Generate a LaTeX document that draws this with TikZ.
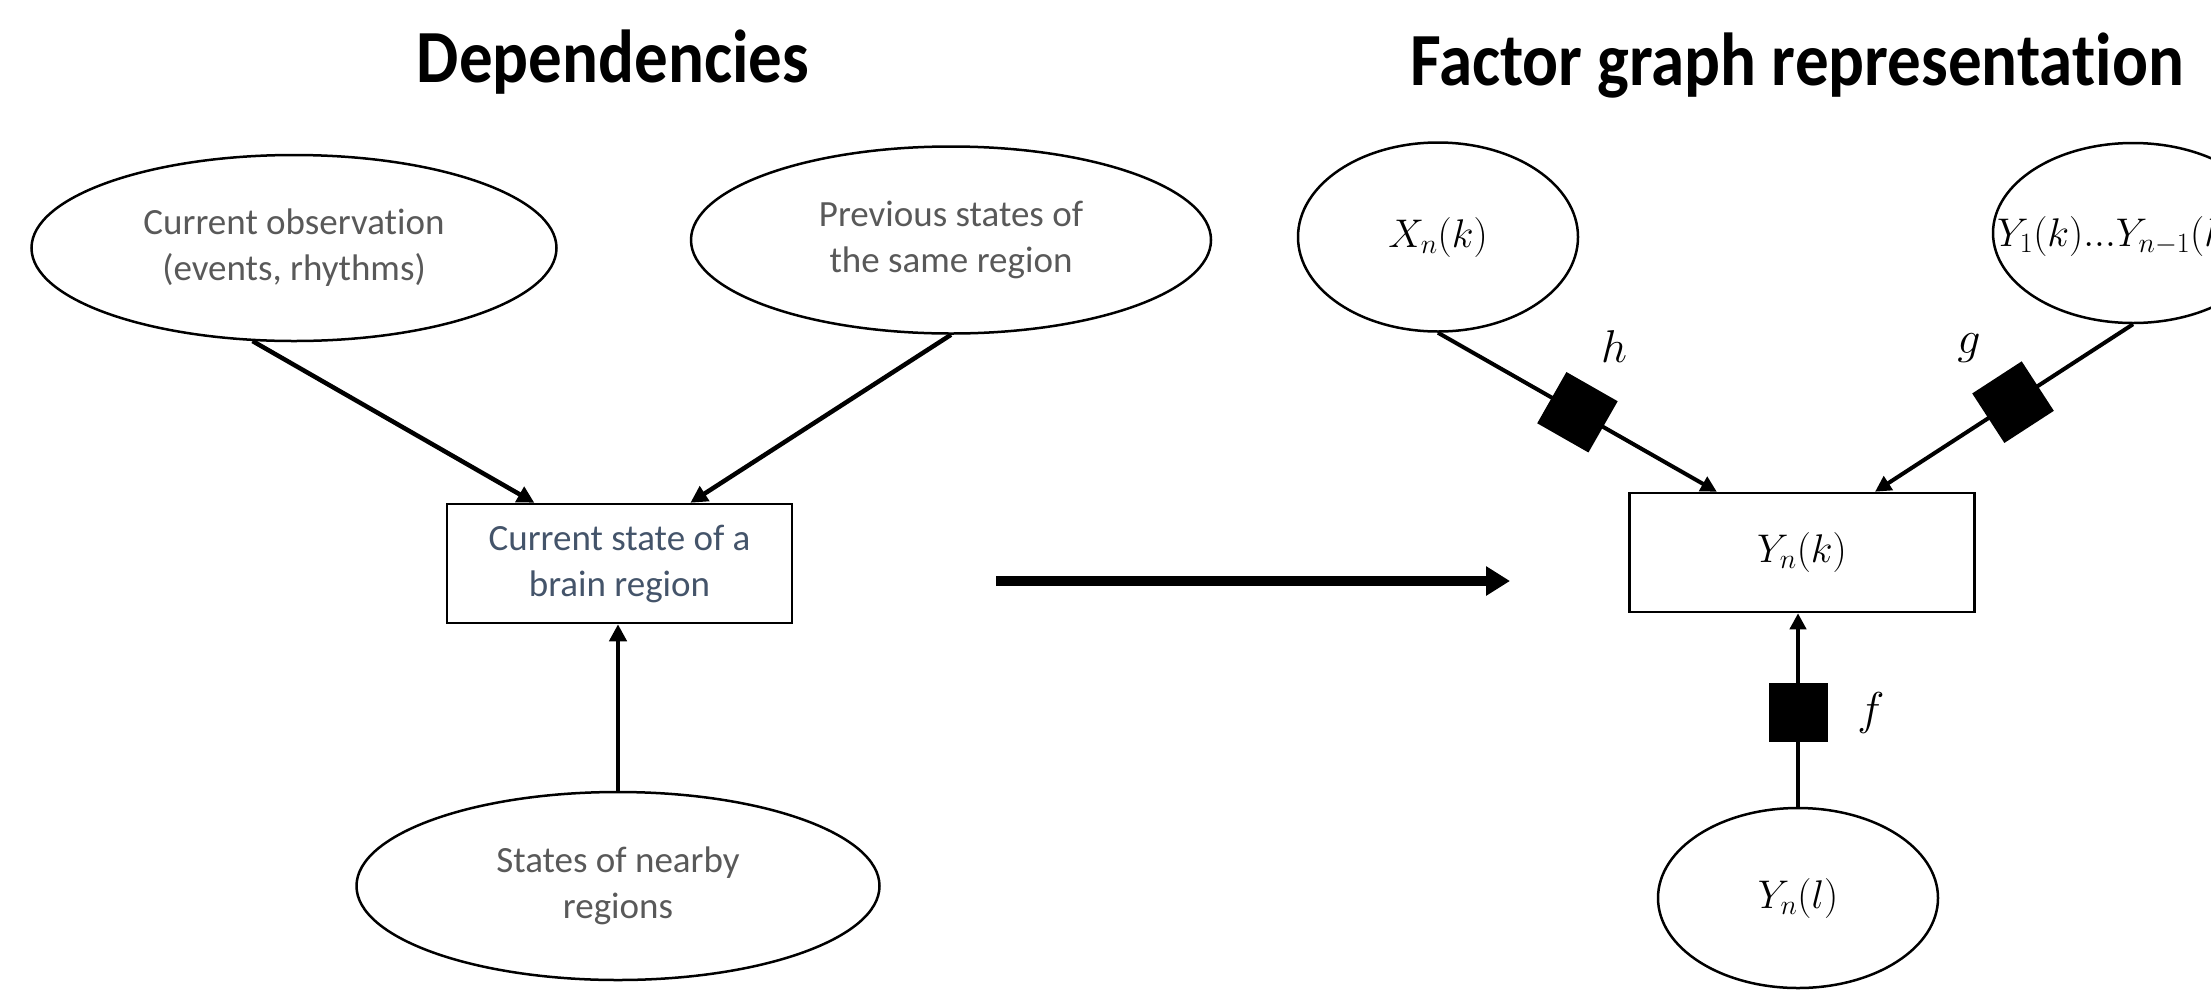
\RequirePackage{fix-cm}
\documentclass[tikz,border=0pt]{standalone}
\usepackage[no-math]{fontspec}
\setmainfont{Carlito}[Ligatures=NoCommon]
\usepackage{graphicx}
\usetikzlibrary{shapes.geometric,arrows.meta,calc}
\definecolor{txtgray}{HTML}{595959}
\definecolor{txtblue}{HTML}{44546A}
\begin{document}
\begin{tikzpicture}[x=1pt,y=-1pt,
  ell/.style={draw, ellipse, line width=2.5pt, inner sep=0pt, text=txtgray, align=center,
    font=\fontsize{37}{46}\selectfont},
  bx/.style={draw, rectangle, line width=2.5pt, minimum width=345pt, minimum height=119pt,
    inner sep=0pt, align=center, font=\fontsize{37}{46}\selectfont},
  mth/.style={text=black, font=\fontsize{40}{44}\selectfont},
  lbl/.style={inner sep=0pt, font=\fontsize{46}{50}\selectfont},
  ttl/.style={inner sep=0pt, anchor=base, font=\fontsize{67}{80}\selectfont\bfseries},
  arr/.style={line width=4.5pt, -{Triangle[length=17pt,width=17pt]}},
  arrR/.style={line width=4pt, -{Triangle[length=16pt,width=16pt]}},
  bigarr/.style={line width=9.5pt, -{Triangle[length=24pt,width=28pt]}},
  fac/.style={fill=black, rectangle, minimum size=59pt, inner sep=0pt, sloped}
]
\useasboundingbox (0,0) rectangle (2211,991);
\clip (0,0) rectangle (2211,991);

% titles
\node[ttl] (t1) at (613,82) {\scalebox{1}[1.12]{Dependencies}};
\node[ttl] (t2) at (1797,85) {\scalebox{1}[1.12]{Factor graph representation}};

% left: dependencies
\node[ell, minimum width=525pt, minimum height=186pt] (obs) at (294,248) {Current observation\\(events, rhythms)};
\node[ell, minimum width=520pt, minimum height=187pt] (prev) at (951,240) {Previous states of\\the same region};
\node[bx, text=txtblue] (cur) at (619.5,563.5) {Current state of a\\brain region};
\node[ell, minimum width=523pt, minimum height=188pt] (near) at (618,886) {States of nearby\\regions};

\draw[arr] (obs.246) -- ($(cur.north west)!0.255!(cur.north east)$);
\draw[arr] (prev.south) -- ($(cur.north west)!0.704!(cur.north east)$);
\draw[arr] (near.north) -- (near.north |- cur.south);

% big arrow
\coordinate (bs) at (996,581);
\coordinate (be) at (1510,581);
\draw[bigarr] (bs) -- (be);

% right: factor graph
\node[ell, mth, minimum width=280pt, minimum height=189pt] (xn) at (1438,237) {$X_n(k)$};
\node[ell, minimum width=280pt, minimum height=180pt] (y1) at (2133,233) {};
\node[mth, anchor=west, inner sep=0pt] (y1t) at (1997,236) {$Y_1(k){.}{.}{.}Y_{n-1}(k)$};
\node[bx, mth] (yn) at (1802,552.5) {$Y_n(k)$};
\node[ell, mth, minimum width=280pt, minimum height=180pt] (ynl) at (1798,898) {$Y_n(l)$};

\draw[arrR] (xn.south) -- node[fac, pos=0.5] (hf) {} ($(yn.north west)!0.255!(yn.north east)$);
\draw[arrR] (y1.south) -- node[fac, pos=0.465] (gf) {} ($(yn.north west)!0.71!(yn.north east)$);
\draw[arrR] (ynl.north) -- node[fac, pos=0.485] (ff) {} (ynl.north |- yn.south);

\node[lbl] (hl) at (1614,347) {$h$};
\node[lbl] (gl) at (1969,348) {$g$};
\node[lbl] (fl) at (1871,713) {$f$};
\end{tikzpicture}
\end{document}
